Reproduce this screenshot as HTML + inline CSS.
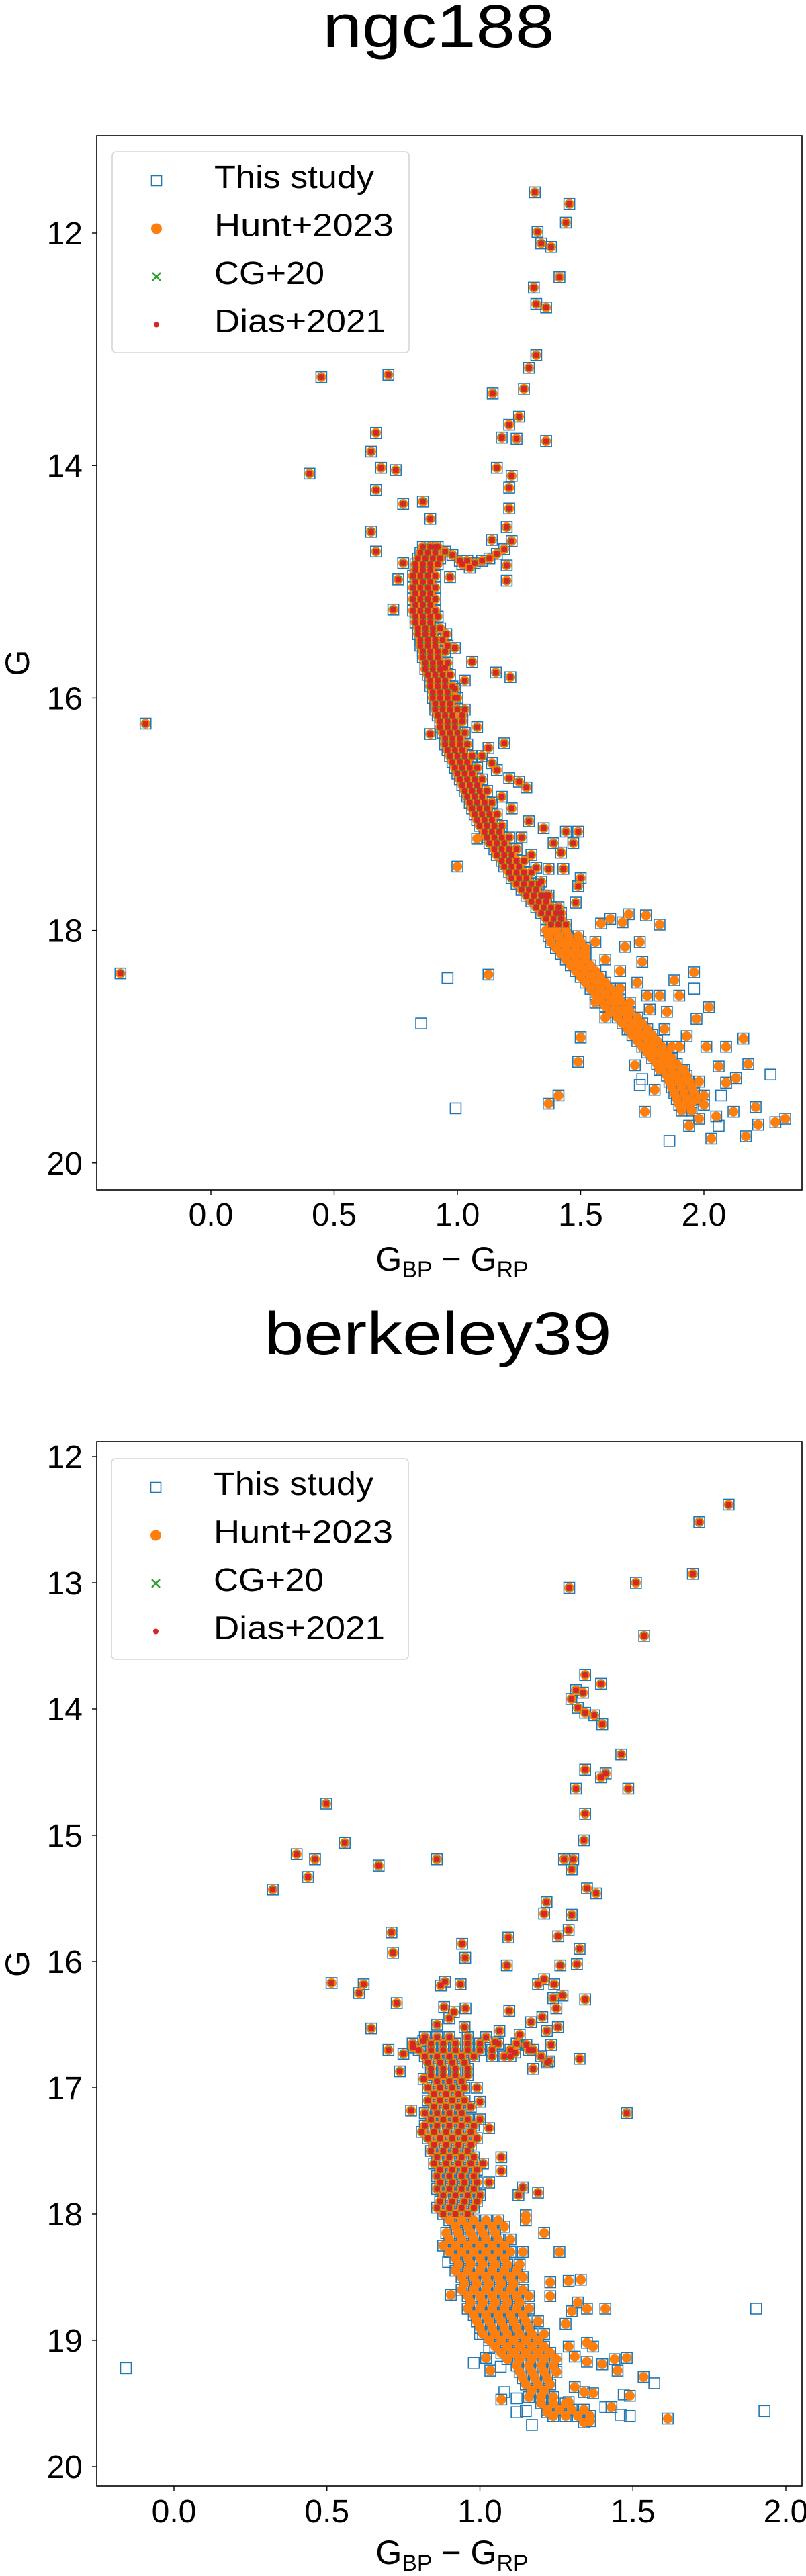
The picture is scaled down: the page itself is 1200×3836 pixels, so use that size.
<!DOCTYPE html>
<html><head><meta charset="utf-8"><title>CMD comparison</title>
<style>
html,body{margin:0;padding:0;background:#fff;}
svg text{font-family:"Liberation Sans","DejaVu Sans",sans-serif;fill:#000;}
</style></head>
<body>
<svg id="fig" xmlns="http://www.w3.org/2000/svg" width="1200" height="3831" viewBox="0 0 1200 3831">
<rect x="0" y="0" width="1200" height="3831" fill="#fff"/>
</svg>
<script>
// ===== Panel 1: ngc188 =====
const p1XTicks = [0.0, 0.5, 1.0, 1.5, 2.0];
const p1XTickLabels = ["0.0", "0.5", "1.0", "1.5", "2.0"];
const p1YTicks = [12, 14, 16, 18, 20];
const p1YTickLabels = ["12", "14", "16", "18", "20"];
const p1CoreG = [14.70,14.75,14.80,14.85,14.90,14.95,15.00,15.05,15.10,15.15,15.20,15.25,15.30,15.35,15.40,15.45,15.50,15.55,15.60,15.65,15.70,15.75,15.80,15.85,15.90,15.95,16.00,16.05,16.10,16.15,16.20,16.25,16.30,16.35,16.40,16.45,16.50,16.55,16.60,16.65,16.70,16.75,16.80,16.85,16.90,16.95,17.00,17.05,17.10,17.15,17.20,17.25,17.30,17.35,17.40,17.45,17.50,17.55,17.60,17.65,17.70,17.75,17.80,17.85,17.90,17.95];
const p1CoreBp = [[.86,.89,.92],[.85,.88,.91],[.84,.87,.90,.93],[.83,.86,.89,.92],[.83,.86,.89],[.82,.85,.88,.91],[.83,.86,.89],[.82,.85,.88,.91],[.83,.86,.89],[.82,.85,.88,.91],[.83,.86,.89],[.82,.85,.88,.91],[.83,.86,.89,.92],[.83,.86,.89],[.84,.87,.90,.93],[.84,.87,.90],[.85,.88,.91,.94],[.85,.88,.91],[.86,.89,.92,.95],[.86,.89,.92],[.87,.90,.93,.96],[.87,.90,.93],[.88,.91,.94,.97],[.89,.92,.95],[.89,.92,.95,.98],[.90,.93,.96],[.90,.93,.96,.99],[.91,.94,.97],[.91,.94,.97,1.00],[.92,.95,.98],[.93,.96,.99,1.02],[.93,.96,.99],[.94,.97,1.00,1.03],[.95,.98,1.01],[.95,.98,1.01,1.04],[.96,.99,1.02],[.97,1.00,1.03,1.06],[.98,1.01,1.04],[.99,1.02,1.05,1.08],[1.00,1.03,1.06],[1.01,1.04,1.07,1.10],[1.02,1.05,1.08],[1.03,1.06,1.09,1.12],[1.04,1.07,1.10],[1.05,1.08,1.11,1.14],[1.06,1.09,1.12],[1.07,1.10,1.13,1.16],[1.08,1.11,1.14],[1.09,1.12,1.15,1.18],[1.11,1.14,1.17],[1.12,1.15,1.18,1.21],[1.13,1.16,1.19],[1.15,1.18,1.21,1.24],[1.16,1.19,1.22],[1.18,1.21,1.24,1.27],[1.19,1.22,1.25],[1.21,1.24,1.27,1.30],[1.22,1.25,1.28],[1.24,1.27,1.30,1.33],[1.26,1.29,1.32],[1.28,1.31,1.34,1.37],[1.30,1.33,1.36],[1.32,1.35,1.38,1.41],[1.34,1.37,1.40],[1.36,1.39,1.42],[1.38,1.41,1.44]];
const p1AllExtra = [[1.314,11.65],[1.454,11.75],[1.44,11.91],[1.325,11.99],[1.34,12.09],[1.38,12.12],[1.414,12.38],[1.31,12.47],[1.32,12.61],[1.36,12.64],[1.32,13.05],[1.29,13.16],[1.27,13.34],[1.143,13.38],[1.25,13.58],[1.21,13.65],[1.18,13.76],[1.24,13.77],[1.36,13.79],[1.16,14.02],[1.22,14.09],[1.21,14.19],[1.21,14.37],[1.20,14.53],[1.14,14.64],[1.22,14.65],[1.20,14.86],[1.20,14.99],[0.448,13.24],[0.72,13.22],[0.40,14.07],[0.67,13.72],[0.65,13.88],[0.69,14.02],[0.75,14.04],[0.67,14.21],[0.78,14.33],[0.86,14.31],[0.89,14.46],[0.65,14.57],[0.67,14.74],[0.78,14.84],[0.76,14.98],[0.74,15.24],[-0.265,16.22],[-0.367,18.37],[0.91,14.70],[0.95,14.74],[0.98,14.77],[1.01,14.82],[1.04,14.82],[1.07,14.84],[1.10,14.82],[1.05,14.88],[1.02,14.85],[1.13,14.80],[1.16,14.76],[1.19,14.72],[0.97,14.96],[0.955,15.45],[0.99,15.57],[1.06,15.69],[1.156,15.78],[1.215,15.82],[1.03,15.85],[1.08,16.25],[0.89,16.31],[1.03,16.10],[0.99,15.92],[0.95,15.74],[0.96,15.55],[1.0,16.0],[1.02,16.15],[1.126,16.43],[1.19,16.39],[1.14,16.56],[1.21,16.69],[1.28,16.77],[1.25,16.72],[1.29,17.06],[1.35,17.12],[1.44,17.15],[1.49,17.15],[1.39,17.25],[1.42,17.33],[1.47,17.25],[1.37,17.47],[1.43,17.47],[1.50,17.55],[1.49,17.62],[1.48,17.76],[1.32,17.46],[1.34,17.58],[1.10,16.50],[1.16,16.62],[1.18,16.85],[1.22,16.95],[1.26,17.20],[1.30,17.35],[1.36,17.70],[1.42,17.85]];
const p1HuntG = [18.00,18.05,18.10,18.15,18.20,18.25,18.30,18.35,18.40,18.45,18.50,18.55,18.60,18.65,18.70,18.75,18.80,18.85,18.90,18.95,19.00,19.05,19.10,19.15,19.20,19.25,19.30,19.35,19.40,19.45,19.50,19.55];
const p1HuntBp = [[1.36,1.40,1.44],[1.37,1.41,1.45,1.49],[1.38,1.42,1.46,1.50],[1.40,1.44,1.48,1.52],[1.42,1.46,1.50],[1.44,1.48,1.52],[1.46,1.50,1.54],[1.48,1.52,1.56],[1.50,1.54,1.58],[1.52,1.56,1.60],[1.54,1.58,1.62,1.66],[1.56,1.60,1.64],[1.58,1.62,1.66],[1.60,1.64,1.68],[1.62,1.66,1.70],[1.65,1.69,1.73],[1.67,1.71,1.75],[1.69,1.73,1.77],[1.71,1.75,1.79],[1.73,1.77,1.81],[1.75,1.79,1.83,1.87],[1.77,1.81,1.85],[1.79,1.83,1.87],[1.81,1.85,1.89],[1.83,1.87,1.91],[1.85,1.89,1.93],[1.86,1.90,1.94],[1.87,1.91,1.95],[1.88,1.92,1.96],[1.89,1.93,1.97],[1.90,1.94],[1.91,1.95]];
const p1HuntExtra = [[1.00,17.45],[1.08,17.21],[1.126,18.38],[1.583,17.94],[1.62,17.90],[1.67,17.93],[1.695,17.86],[1.765,17.87],[1.82,17.95],[1.68,18.14],[1.74,18.10],[1.75,18.27],[1.73,18.45],[1.77,18.56],[1.82,18.56],[1.88,18.43],[1.90,18.56],[1.96,18.36],[2.02,18.66],[1.97,18.76],[1.93,18.91],[1.90,19.0],[2.01,19.0],[2.09,19.0],[2.16,18.93],[2.18,19.15],[2.13,19.27],[2.09,19.31],[2.06,19.17],[2.21,19.52],[2.22,19.67],[2.29,19.65],[2.33,19.62],[2.17,19.77],[2.12,19.56],[2.03,19.79],[1.94,19.68],[1.76,19.56],[1.80,19.37],[1.72,19.16],[1.50,18.92],[1.49,19.13],[1.41,19.42],[1.37,19.49],[1.60,18.25],[1.65,18.55],[1.85,18.70],[2.0,19.5],[2.05,19.6],[1.98,19.62],[1.56,18.62],[1.60,18.75],[1.70,18.62],[1.78,18.68],[1.84,18.85],[1.86,19.1],[1.92,19.2],[1.98,19.3],[2.0,19.42],[1.95,19.48],[1.56,18.1],[1.52,18.2],[1.58,18.4],[1.66,18.35],[1.70,18.85],[1.76,19.0],[1.82,19.2]];
const p1ThisOnly = [[0.96,18.41],[0.853,18.80],[0.993,19.53],[1.74,19.33],[1.86,19.81],[2.07,19.42],[2.27,19.24],[2.06,19.68],[1.96,18.50],[1.75,19.28]];

// ===== Panel 2: berkeley39 =====
const p2XTicks = [0.0, 0.5, 1.0, 1.5, 2.0];
const p2XTickLabels = ["0.0", "0.5", "1.0", "1.5", "2.0"];
const p2YTicks = [12, 13, 14, 15, 16, 17, 18, 19, 20];
const p2YTickLabels = ["12", "13", "14", "15", "16", "17", "18", "19", "20"];
const p2CoreG = [16.60,16.65,16.70,16.75,16.80,16.85,16.90,16.95,17.00,17.05,17.10,17.15,17.20,17.25,17.30,17.35,17.40,17.45,17.50,17.55,17.60,17.65,17.70,17.75,17.80,17.85,17.90,17.95,18.00];
const p2CoreBp = [[.82,.86,.90,.96,1.02],[.78,.84,.88,.92,.96,1.00,1.06,1.12],[.80,.84,.88,.92,.96,1.00,1.04,1.10,1.16],[.82,.86,.90,.94,.98,1.04,1.10,1.20],[.83,.87,.91,.95,1.22],[.84,.88,.92,.96],[.84,.88,.92,.96],[.86,.90,.94],[.83,.87,.91,.95,.99],[.85,.89,.93],[.83,.87,.91,.95],[.85,.89,.93,.97],[.82,.86,.90,.94],[.84,.88,.92,.96,1.00],[.82,.86,.90,.94,.98],[.81,.85,.89,.93,.97],[.83,.87,.91,.95,.99],[.85,.89,.93,.97],[.84,.88,.92,.96],[.86,.90,.94,.98],[.85,.89,.93,.97,1.01],[.87,.91,.95,.99],[.86,.90,.94,.98],[.87,.91,.95,.99,1.03],[.86,.90,.94,.98],[.88,.92,.96,1.00],[.87,.91,.95,.99],[.86,.90,.94,.98],[.88,.92,.96]];
const p2AllExtra = [[1.813,12.38],[1.717,12.52],[1.696,12.93],[1.51,13.00],[1.292,13.04],[1.537,13.42],[1.344,13.73],[1.396,13.80],[1.314,13.85],[1.299,13.92],[1.32,13.99],[1.344,14.03],[1.374,14.05],[1.40,14.12],[1.337,13.87],[1.462,14.36],[1.344,14.48],[1.396,14.54],[1.411,14.51],[1.314,14.63],[1.485,14.63],[1.344,14.83],[1.34,15.04],[1.275,15.19],[1.30,15.27],[1.305,15.19],[1.35,15.42],[1.38,15.46],[1.218,15.53],[1.21,15.62],[1.30,15.63],[1.29,15.75],[1.256,15.80],[1.326,15.90],[1.317,16.02],[1.263,16.03],[1.21,16.14],[1.19,16.18],[1.243,16.18],[1.27,16.27],[1.24,16.29],[1.344,16.30],[1.25,16.37],[1.204,16.44],[1.167,16.48],[1.255,16.52],[1.219,16.55],[1.233,16.66],[1.174,16.70],[1.226,16.79],[1.174,16.85],[1.326,16.77],[1.48,17.20],[0.498,14.75],[0.558,15.06],[0.401,15.15],[0.461,15.19],[0.438,15.33],[0.323,15.43],[0.669,15.24],[0.859,15.19],[0.711,15.77],[0.716,15.93],[0.942,15.86],[0.952,15.97],[1.093,15.81],[1.088,16.03],[0.515,16.17],[0.62,16.18],[0.605,16.25],[0.728,16.33],[0.886,16.16],[0.872,16.19],[0.937,16.18],[0.883,16.36],[0.915,16.40],[0.953,16.37],[1.096,16.39],[0.645,16.53],[0.701,16.70],[0.75,16.73],[0.782,16.68],[0.815,16.63],[0.738,16.87],[0.775,17.18],[1.13,16.58],[1.064,16.55],[1.05,16.64],[1.08,16.75],[1.115,16.72],[1.152,16.66],[0.816,16.93],[1.126,17.85],[1.14,17.79],[1.19,17.83],[1.07,17.66],[1.07,17.55],[1.03,17.32],[1.0,17.11],[0.90,16.45],[0.86,16.50],[0.95,16.52]];
const p2HuntG = [18.05,18.10,18.15,18.20,18.25,18.30,18.35,18.40,18.45,18.50,18.55,18.60,18.65,18.70,18.75,18.80,18.85,18.90,18.95,19.00,19.05,19.10,19.15,19.20,19.25,19.30,19.35,19.40,19.45,19.50,19.55,19.60];
const p2HuntBp = [[.90,.94,.98,1.02,1.06],[.92,.96,1.00,1.04,1.08],[.89,.93,.97,1.01,1.05],[.90,.94,.98,1.02,1.06,1.10],[.88,.92,.96,1.00,1.04,1.08],[.90,.94,.98,1.02,1.06,1.10,1.14],[.92,.96,1.00,1.04,1.08],[.93,.97,1.01,1.05,1.09,1.13],[.92,.96,1.00,1.04,1.08,1.12],[.94,.98,1.02,1.06,1.10,1.14],[.95,.99,1.03,1.07,1.11],[.94,.98,1.02,1.06,1.10,1.14],[.96,1.00,1.04,1.08,1.12,1.16],[.97,1.01,1.05,1.09,1.13],[.96,1.00,1.04,1.08,1.12,1.16],[.98,1.02,1.06,1.10,1.14],[.99,1.03,1.07,1.11,1.15,1.19],[1.00,1.04,1.08,1.12,1.16],[1.01,1.05,1.09,1.13,1.17,1.21],[1.03,1.07,1.11,1.15,1.19],[1.05,1.09,1.13,1.17,1.21],[1.07,1.11,1.15,1.19,1.23],[1.09,1.13,1.17,1.21,1.25],[1.12,1.16,1.20,1.24],[1.13,1.17,1.21,1.25],[1.14,1.18,1.22],[1.15,1.19,1.23],[1.17,1.21],[1.16,1.20,1.24],[1.20,1.24,1.28],[1.22,1.26,1.30,1.34],[1.24,1.28,1.32,1.36]];
const p2HuntExtra = [[0.905,18.64],[1.034,19.24],[1.07,19.47],[1.02,19.14],[1.614,19.62],[1.535,19.29],[1.48,19.14],[1.44,19.15],[1.41,18.75],[1.35,18.75],[1.30,18.77],[1.32,18.70],[1.29,18.53],[1.33,18.52],[1.23,18.54],[1.23,18.65],[1.28,18.87],[1.26,18.30],[1.21,18.15],[1.15,18.05],[1.15,18.01],[1.35,19.02],[1.37,19.05],[1.35,19.17],[1.40,19.19],[1.45,19.24],[1.49,19.44],[1.43,19.53],[1.37,19.42],[1.34,19.41],[1.31,19.37],[1.36,19.64],[1.34,19.65],[1.29,19.49],[1.24,19.60],[1.22,19.57],[1.31,19.13],[1.29,19.05]];
const p2ThisOnly = [[0.896,18.38],[0.98,19.18],[1.068,19.21],[1.08,19.41],[1.12,19.46],[1.12,19.57],[1.15,19.56],[1.17,19.67],[1.41,19.53],[1.46,19.59],[1.49,19.60],[1.47,19.43],[1.57,19.34],[1.903,18.75],[1.93,19.56],[-0.157,19.22],[1.03,19.06],[1.0,18.95]];

const legendLabels = ["This study", "Hunt+2023", "CG+20", "Dias+2021"];
const legendWidths = [238, 267, 164, 255];

const NS = "http://www.w3.org/2000/svg";
const svg = document.getElementById("fig");
function mk(tag, attrs, parent) {
  const e = document.createElementNS(NS, tag);
  for (const k in attrs) e.setAttribute(k, attrs[k]);
  (parent || svg).appendChild(e);
  return e;
}
function expandRows(gs, rows) {
  const out = [];
  gs.forEach((g, i) => rows[i].forEach(b => out.push([b, g])));
  return out;
}

function drawPanel(cfg) {
  const g = mk("g", {});
  
  
  const sx = v => cfg.x0 + v * cfg.kx;
  const sy = v => cfg.y12 + (v - 12) * cfg.ky;

  const t = mk("text", {x: cfg.titleX, y: cfg.titleY, "font-size": 90, "text-anchor": "middle", textLength: cfg.titleW, lengthAdjust: "spacingAndGlyphs"}, g);
  t.textContent = cfg.title;
  
  

  const all = expandRows(cfg.coreG, cfg.coreBp).concat(cfg.allExtra);
  const hunt = expandRows(cfg.huntG, cfg.huntBp).concat(cfg.huntExtra);
  const thisStudy = all.concat(hunt, cfg.thisOnly);
  const huntAll = all.concat(hunt);

  const clipId = cfg.key + "-clip";
  const defs = mk("defs", {}, g);
  const cp = mk("clipPath", {id: clipId}, defs);
  mk("rect", {x: cfg.L, y: cfg.T, width: cfg.R - cfg.L, height: cfg.B - cfg.T}, cp);
  const plot = mk("g", {"clip-path": "url(#" + clipId + ")"}, g);

  const sBlue = mk("g", {}, plot);
  
  
  thisStudy.forEach(p => {
    const r = mk("rect", {x: sx(p[0]) - 8, y: sy(p[1]) - 8, width: 16, height: 16, fill: "none", stroke: "#1f77b4", "stroke-width": 1.6}, sBlue);
    
    
  });
  const sOr = mk("g", {}, plot);
  
  
  huntAll.forEach(p => {
    const c = mk("circle", {cx: sx(p[0]), cy: sy(p[1]), r: 7.2, fill: "#ff7f0e"}, sOr);
    
    
  });
  const sGr = mk("g", {}, plot);
  
  
  all.forEach(p => {
    const x = sx(p[0]), y = sy(p[1]);
    const path = mk("path", {d: `M${x-4.5},${y-4.5}L${x+4.5},${y+4.5}M${x-4.5},${y+4.5}L${x+4.5},${y-4.5}`, stroke: "#2ca02c", "stroke-width": 2}, sGr);
    
    
  });
  const sRd = mk("g", {}, plot);
  
  
  all.forEach(p => {
    const c = mk("circle", {cx: sx(p[0]), cy: sy(p[1]), r: 4.6, fill: "#d62728"}, sRd);
    
    
  });

  const frame = mk("rect", {x: cfg.L, y: cfg.T, width: cfg.R - cfg.L, height: cfg.B - cfg.T, fill: "none", stroke: "#000", "stroke-width": 1.6}, g);
  
  

  cfg.xTicks.forEach((v, i) => {
    const x = sx(v);
    const tk = mk("line", {x1: x, y1: cfg.B, x2: x, y2: cfg.B + 7, stroke: "#000", "stroke-width": 1.4}, g);
    
    
    const tl = mk("text", {x: x, y: cfg.B + cfg.xTickDy, "font-size": 48, "text-anchor": "middle"}, g);
    tl.textContent = cfg.xTickLabels[i];
    
    
  });
  cfg.yTicks.forEach((v, i) => {
    const y = sy(v);
    const tk = mk("line", {x1: cfg.L - 7, y1: y, x2: cfg.L, y2: y, stroke: "#000", "stroke-width": 1.4}, g);
    
    
    const tl = mk("text", {x: cfg.L - 21, y: y + 17, "font-size": 48, "text-anchor": "end"}, g);
    tl.textContent = cfg.yTickLabels[i];
    
    
  });

  const xl = mk("text", {x: 673, y: cfg.xLabelY, "font-size": 50, "text-anchor": "middle"}, g);
  xl.innerHTML = 'G<tspan font-size="34" dy="10">BP</tspan><tspan dy="-10"> − G</tspan><tspan font-size="34" dy="10">RP</tspan>';
  
  
  const yc = (cfg.T + cfg.B) / 2;
  const yl = mk("text", {x: 0, y: 0, "font-size": 50, "text-anchor": "middle", transform: `translate(43,${yc}) rotate(-90)`}, g);
  yl.textContent = "G";
  
  

  const lg = mk("g", {}, g);
  
  
  mk("rect", {x: cfg.legX, y: cfg.legY, width: 442, height: 299, rx: 6, fill: "#fff", "fill-opacity": 0.85, stroke: "#d6d6d6", "stroke-width": 1.6}, lg);
  legendLabels.forEach((lab, i) => {
    const by = cfg.legY + 54 + i * 71.5;
    const my = by - 11;
    const mx = cfg.legX + 66;
    const e = mk("g", {}, lg);
    
    
    if (i === 0) mk("rect", {x: mx - 7.5, y: my - 7.5, width: 15, height: 15, fill: "none", stroke: "#1f77b4", "stroke-width": 1.6}, e);
    if (i === 1) mk("circle", {cx: mx, cy: my, r: 8, fill: "#ff7f0e"}, e);
    if (i === 2) mk("path", {d: `M${mx-6},${my-6}L${mx+6},${my+6}M${mx-6},${my+6}L${mx+6},${my-6}`, stroke: "#2ca02c", "stroke-width": 2.4}, e);
    if (i === 3) mk("circle", {cx: mx, cy: my, r: 4, fill: "#d62728"}, e);
    const tx = mk("text", {x: cfg.legX + 152, y: by, "font-size": 48, textLength: legendWidths[i], lengthAdjust: "spacingAndGlyphs"}, e);
    tx.textContent = lab;
  });
}

drawPanel({key: "ngc188", title: "ngc188", titleX: 653, titleY: 70, titleW: 345,
  L: 144, R: 1194, T: 202, B: 1772, x0: 314, kx: 367, y12: 347, ky: 173.1,
  xTicks: p1XTicks, xTickLabels: p1XTickLabels, yTicks: p1YTicks, yTickLabels: p1YTickLabels,
  xTickDy: 53, xLabelY: 1892, legX: 167, legY: 226,
  coreG: p1CoreG, coreBp: p1CoreBp, allExtra: p1AllExtra,
  huntG: p1HuntG, huntBp: p1HuntBp, huntExtra: p1HuntExtra, thisOnly: p1ThisOnly});

drawPanel({key: "berkeley39", title: "berkeley39", titleX: 652, titleY: 2017, titleW: 517,
  L: 144, R: 1194, T: 2147, B: 3702, x0: 259, kx: 455.5, y12: 2169, ky: 188,
  xTicks: p2XTicks, xTickLabels: p2XTickLabels, yTicks: p2YTicks, yTickLabels: p2YTickLabels,
  xTickDy: 54, xLabelY: 3818, legX: 166, legY: 2172,
  coreG: p2CoreG, coreBp: p2CoreBp, allExtra: p2AllExtra,
  huntG: p2HuntG, huntBp: p2HuntBp, huntExtra: p2HuntExtra, thisOnly: p2ThisOnly});
</script>
</body></html>
